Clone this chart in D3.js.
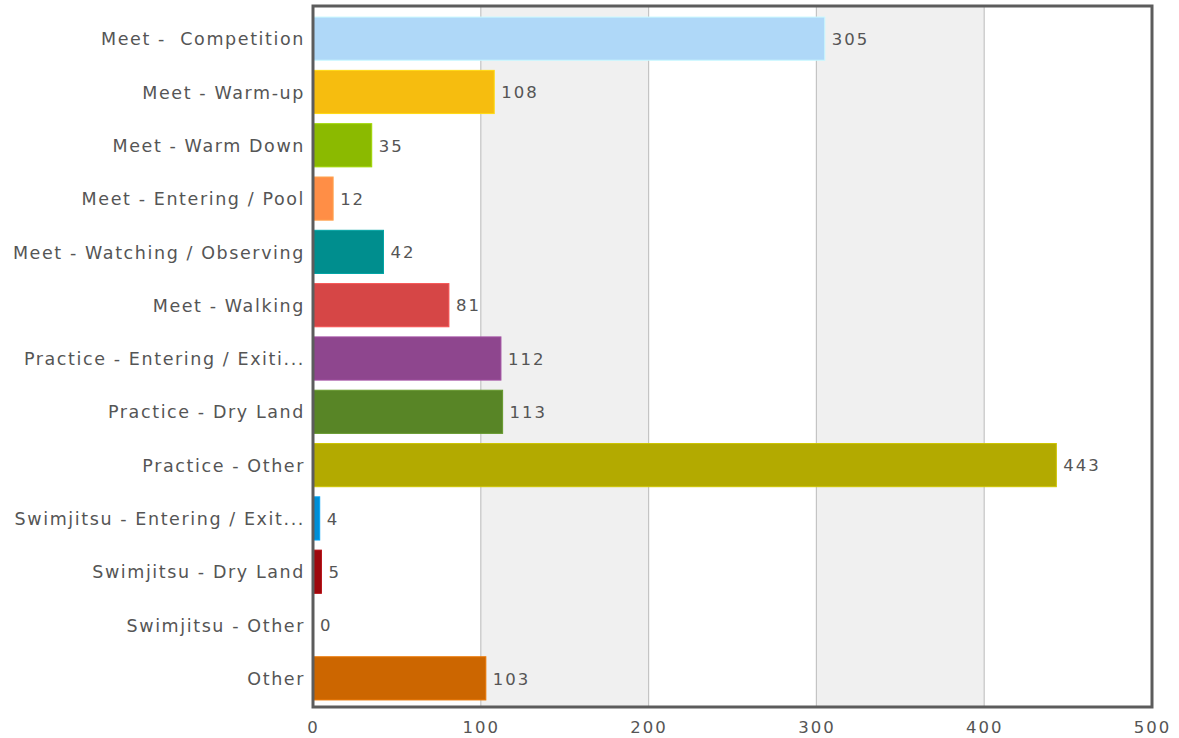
<!DOCTYPE html>
<html><head><meta charset="utf-8">
<script src="https://cdn.jsdelivr.net/npm/d3@7"></script>
<style>body{margin:0;background:#fff}svg{display:block}text{font-family:"DejaVu Sans",Verdana,sans-serif;fill:#555}</style>
</head><body><svg id="c" width="1179" height="738"></svg>
<script>
const categories = ["Meet -  Competition","Meet - Warm-up","Meet - Warm Down","Meet - Entering / Pool","Meet - Watching / Observing","Meet - Walking","Practice - Entering / Exiti...","Practice - Dry Land","Practice - Other","Swimjitsu - Entering / Exit...","Swimjitsu - Dry Land","Swimjitsu - Other","Other"];
const values = [305,108,35,12,42,81,112,113,443,4,5,0,103];
const colors = ["#AFD8F8","#F6BD0F","#8BBA00","#FF8E46","#008E8E","#D64646","#8E468E","#588526","#B3AA00","#008ED6","#9D080D","#A186BE","#CC6600"];
const xTicks = [0,100,200,300,400,500];

const svg = d3.select("#c");
const L = 313, R = 1152, T = 6, B = 707;
const x = d3.scaleLinear().domain([0,500]).range([L,R]);
const y = d3.scaleBand().domain(categories).range([12,705]).paddingInner(0.19).paddingOuter(0.095);

// alternating bands
const bands = xTicks.slice(0,-1).map((t,i)=>({a:t,b:xTicks[i+1],i}));
svg.append("g").selectAll("rect").data(bands.filter(d=>d.i%2===1)).join("rect")
  .attr("x",d=>x(d.a)).attr("y",T).attr("width",d=>x(d.b)-x(d.a)).attr("height",B-T).attr("fill","#f0f0f0");
// grid lines
svg.append("g").selectAll("line").data(xTicks.slice(1,-1)).join("line")
  .attr("x1",d=>x(d)).attr("x2",d=>x(d)).attr("y1",T).attr("y2",B).attr("stroke","#c4c4c4").attr("stroke-width",1.2);

// bars
svg.append("g").selectAll("rect").data(values).join("rect")
  .attr("x",x(0)).attr("y",(d,i)=>y(categories[i]))
  .attr("width",d=>Math.max(0,x(d)-x(0))).attr("height",y.bandwidth())
  .attr("fill",(d,i)=>colors[i])
  .attr("stroke",(d,i)=>d3.color(colors[i]).brighter(0.4)).attr("stroke-width",d=>d>0?1:0);

// value labels
svg.append("g").selectAll("text").data(values).join("text")
  .attr("x",d=>x(d)+7).attr("y",(d,i)=>y(categories[i])+y.bandwidth()/2)
  .attr("dy","0.38em").attr("font-size",16.5).attr("letter-spacing",2).text(d=>d);

// frame
svg.append("rect").attr("x",L).attr("y",T).attr("width",R-L).attr("height",B-T)
  .attr("fill","none").attr("stroke","#5c5c5c").attr("stroke-width",3);

// y axis labels
const ya = d3.axisLeft(y).tickSize(0).tickPadding(8);
const gy = svg.append("g").attr("transform",`translate(${L},0)`).call(ya);
gy.select(".domain").remove();
gy.selectAll("text").attr("font-size",17.5).attr("letter-spacing",1.6).attr("dy","0.38em").style("white-space","pre").attr("fill","#555");

// x axis labels
const xa = d3.axisBottom(x).tickValues(xTicks).tickSize(0).tickPadding(14).tickFormat(d3.format("d"));
const gx = svg.append("g").attr("transform",`translate(0,${B})`).call(xa);
gx.select(".domain").remove();
gx.selectAll("text").attr("font-size",16.5).attr("letter-spacing",2).attr("fill","#555");
</script></body></html>
